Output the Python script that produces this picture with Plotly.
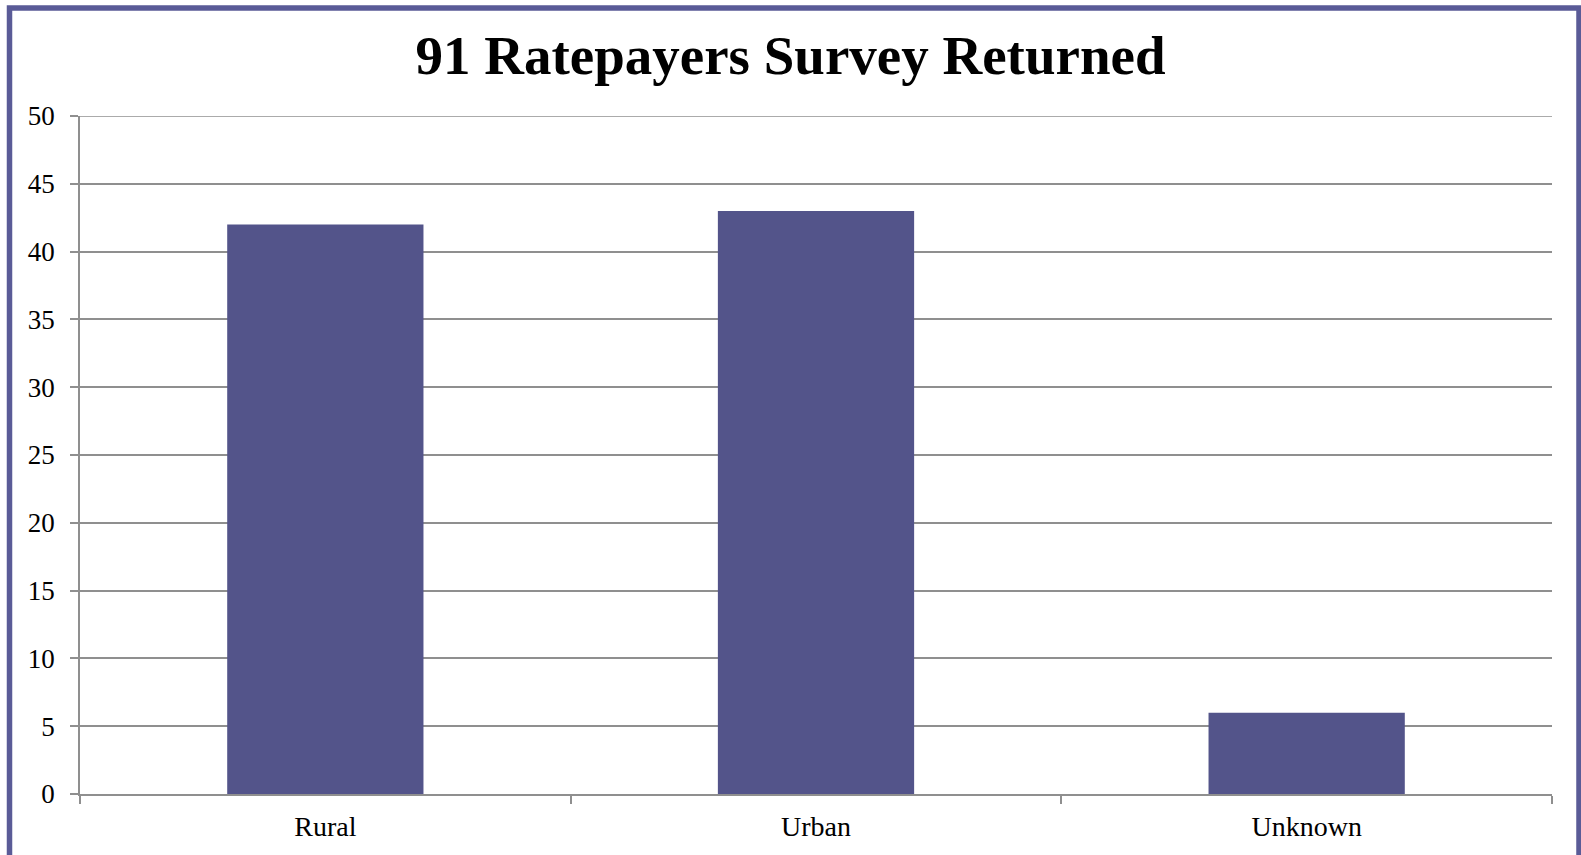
import plotly.graph_objects as go

# Survey responses by ratepayer location
categories = ["Rural", "Urban", "Unknown"]
responses = [42, 43, 6]
y_ticks = [0, 5, 10, 15, 20, 25, 30, 35, 40, 45, 50]

W, H = 1581, 855
ML, MR, MT, MB = 80, 29, 116, 61
PW, PH = W - ML - MR, H - MT - MB

BAR = "#53548a"
FRAME = "#5a5b97"
GRID = "#8f8f8f"
SERIF = "Liberation Serif, Georgia, serif"


def px_x(p):
    return (p - ML) / PW


def px_y(p):
    return (H - MB - p) / PH


fig = go.Figure()

# gridline at the top of the value range, on a hidden 0..1 x-axis
fig.add_trace(
    go.Scatter(
        x=[0, 1],
        y=[y_ticks[-1], y_ticks[-1]],
        xaxis="x2",
        mode="lines",
        line=dict(color=GRID, width=1.5),
        hoverinfo="skip",
        cliponaxis=False,
    )
)

fig.add_trace(
    go.Bar(
        x=categories,
        y=responses,
        marker=dict(color=BAR, line=dict(width=0)),
        width=0.4,
    )
)

fig.update_layout(
    width=W,
    height=H,
    margin=dict(l=ML, r=MR, t=MT, b=MB),
    paper_bgcolor="white",
    plot_bgcolor="white",
    showlegend=False,
    title=dict(
        text="<b>91 Ratepayers Survey Returned</b>",
        x=0.5,
        xref="container",
        xanchor="center",
        y=1 - 55 / H,
        yref="container",
        yanchor="middle",
        font=dict(family=SERIF, size=55, color="black"),
    ),
    xaxis=dict(
        type="category",
        range=[-0.5, len(categories) - 0.5],
        tickson="boundaries",
        ticks="outside",
        ticklen=8,
        tickwidth=1.5,
        tickcolor=GRID,
        showline=True,
        linecolor=GRID,
        linewidth=1.5,
        showgrid=False,
        ticklabelstandoff=7,
        tickfont=dict(family=SERIF, size=28, color="black"),
    ),
    xaxis2=dict(
        overlaying="x",
        range=[0, 1],
        visible=False,
    ),
    yaxis=dict(
        range=[0, y_ticks[-1]],
        tickvals=y_ticks,
        ticks="outside",
        ticklen=8,
        tickwidth=1.5,
        tickcolor=GRID,
        showline=True,
        linecolor=GRID,
        linewidth=1.5,
        showgrid=True,
        gridcolor=GRID,
        gridwidth=1.5,
        zeroline=False,
        ticklabelstandoff=10,
        tickfont=dict(family=SERIF, size=27, color="black"),
    ),
    shapes=[
        # outer frame
        dict(
            type="rect",
            xref="paper",
            yref="paper",
            x0=px_x(9.5),
            x1=px_x(1579),
            y0=px_y(880),
            y1=px_y(8),
            line=dict(color=FRAME, width=5.5),
            fillcolor="rgba(0,0,0,0)",
            layer="above",
        ),
    ],
)

fig.write_html("out.html")
